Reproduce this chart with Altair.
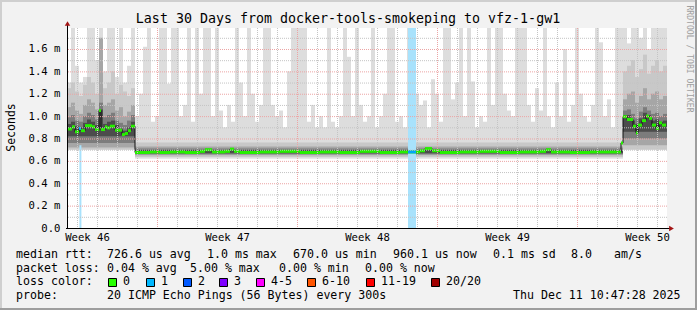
import altair as alt
import pandas as pd

FONT = "DejaVu Sans Mono"

# ------------------------------------------------------------------ text
TITLE = "Last 30 Days from docker-tools-smokeping to vfz-1-gw1"
WATERMARK = "RRDTOOL / TOBI OETIKER"
Y_TITLE = "Seconds"

# ------------------------------------------------------------------ scales (days / milliseconds)
X_DAYS = 30.0
Y_MAX_MS = 1.7877
COL_DAYS = 0.2

WEEK_DAYS = [1, 8, 15, 22, 29]
WEEK_LABELS = ["Week 46", "Week 47", "Week 48", "Week 49", "Week 50"]
Y_TICKS = [0.0, 0.2, 0.4, 0.6, 0.8, 1.0, 1.2, 1.4, 1.6]
Y_MINOR = [0.1, 0.3, 0.5, 0.7, 0.9, 1.1, 1.3, 1.5, 1.7]
X_MAJOR = [4.5, 11.5, 18.5, 25.5]
X_MINOR = [0.5, 1.5, 2.5, 3.5, 5.5, 6.5, 7.5, 8.5, 9.5, 10.5, 12.5, 13.5, 14.5, 15.5,
           16.5, 17.5, 19.5, 20.5, 21.5, 22.5, 23.5, 24.5, 26.5, 27.5, 28.5, 29.5]

# ------------------------------------------------------------------ smoke: top of the outer (lightest) band per column
SPIKE_TOP = [
    # region A
    1.30, 1.79, 1.45, 1.30, 1.35, 1.79, 1.79, 1.50, 1.79, 1.40, 1.79, 1.79, 1.35, 1.79, 1.30, 1.45, 1.79,
    # region B
    1.00, 1.20, 1.62, 1.79, 0.95, 1.00, 1.79, 1.79, 1.29, 1.79, 1.79, 1.00, 1.10, 1.79, 0.95, 1.79, 1.20,
    1.79, 1.79, 1.00, 1.79, 1.05, 0.90, 1.10, 0.95, 1.79, 1.30, 1.00, 1.79, 1.20, 0.95, 1.10, 1.79, 1.79,
    1.10, 1.00, 1.05, 0.90, 1.40, 1.79, 1.79, 1.79, 1.79, 0.95, 1.10, 0.90, 1.00, 0.90, 1.79, 0.95, 0.90,
    1.00, 1.79, 1.53, 1.00, 1.79, 1.10, 0.95, 1.00, 1.79, 0.90, 1.00, 1.20, 1.79, 1.79, 0.95, 1.00, 0.90,
    1.79, 1.79, 1.20, 1.10, 1.14, 0.90, 1.33, 1.20, 0.95, 1.79, 1.79, 1.15, 1.30, 1.79, 1.00, 1.79,
    1.31, 0.90, 1.00, 0.95, 1.79, 1.10, 1.79, 1.79, 1.20, 1.05, 1.00, 1.79, 1.79, 1.79, 1.10, 0.95, 1.25,
    1.05, 1.79, 1.00, 0.90, 1.30, 1.00, 1.60, 0.95, 1.10, 1.79, 1.20, 1.00, 0.95, 1.10, 1.79, 1.66, 1.00,
    1.15, 0.90, 1.79, 1.79,
    # region C
    1.79, 1.65, 1.79, 1.79, 1.70, 1.79, 1.60, 1.79, 1.79, 1.79, 1.79,
]
A_COLS = 17
C_COLS = 11
FLOOR_A, FLOOR_B, FLOOR_C = 0.70, 0.62, 0.70

A_BAND_LO = [0.70, 0.72, 0.76, 0.82]
A_BAND1_HI = [1.25, 1.30, 1.22, 1.18, 1.28, 1.35, 1.30, 1.20, 1.45, 1.25, 1.30, 1.40, 1.20, 1.28, 1.22, 1.18, 1.25]
A_BAND2_HI = [1.08, 1.12, 1.05, 1.02, 1.10, 1.15, 1.12, 1.06, 1.70, 1.10, 1.12, 1.15, 1.05, 1.08, 1.00, 1.04, 1.10]
A_BAND3_HI = [0.99, 1.01, 0.96, 0.95, 1.00, 1.03, 1.01, 0.97, 1.12, 0.99, 1.01, 1.03, 0.96, 0.94, 0.92, 0.96, 1.01]
A_BAND4_HI = [0.93, 0.95, 0.91, 0.90, 0.94, 0.97, 0.95, 0.92, 1.06, 0.93, 0.95, 0.96, 0.92, 0.89, 0.87, 0.90, 0.95]

B_BAND_LO = [0.635, 0.650, 0.660, 0.668]
B_BAND_HI = [0.765, 0.728, 0.710, 0.698]

C_BAND_LO = [0.70, 0.74, 0.80, 0.86]
C_BAND1_HI = [1.40, 1.45, 1.50, 1.35, 1.42, 1.55, 1.38, 1.45, 1.50, 1.40, 1.45]
C_BAND2_HI = [1.15, 1.20, 1.22, 1.12, 1.18, 1.25, 1.15, 1.20, 1.22, 1.15, 1.18]
C_BAND3_HI = [1.05, 1.06, 1.02, 0.98, 1.04, 1.08, 1.05, 1.02, 1.03, 1.00, 1.02]
C_BAND4_HI = [1.01, 1.01, 0.96, 0.93, 0.98, 1.03, 1.01, 0.96, 0.97, 0.95, 0.96]

SHADES = ["#dddddd", "#c8c8c8", "#a6a6a6", "#7c7c7c", "#4c4c4c"]

# ------------------------------------------------------------------ median rtt (ms), step starts in days
MEDIAN_DAY = [0.00, 0.25, 0.40, 0.60, 0.70, 0.90, 1.25, 1.40, 1.60, 1.70, 1.90, 2.00, 2.15, 2.40, 2.75,
              2.90, 3.05, 3.20,
              3.40, 4.15, 4.65, 5.15, 5.90, 6.65, 6.90, 7.25, 7.90, 8.15, 8.35, 8.65, 9.65, 10.65,
              11.65, 12.65, 13.65, 14.65, 15.65, 16.65, 17.65, 17.90, 18.25, 18.65, 19.65, 20.65,
              21.65, 22.65, 23.65, 23.95, 24.20, 25.15, 26.15,
              27.70, 27.80, 28.00, 28.30, 28.45, 28.55, 28.75, 28.95, 29.10, 29.25, 29.45, 29.60, 29.75]
MEDIAN_MS = [0.885, 0.905, 0.860, 0.890, 0.870, 0.915, 0.905, 0.880, 1.050, 0.880, 0.905, 0.895, 0.910,
             0.875, 0.835, 0.845, 0.870, 0.910,
             0.675, 0.680, 0.675, 0.680, 0.675, 0.685, 0.700, 0.680, 0.685, 0.705, 0.685, 0.675, 0.680,
             0.685, 0.675, 0.680, 0.675, 0.685, 0.675, 0.680, 0.690, 0.710, 0.690, 0.675, 0.680, 0.685,
             0.675, 0.680, 0.685, 0.700, 0.680, 0.675, 0.680,
             0.760, 0.995, 0.970, 0.910, 0.850, 0.920, 0.960, 1.000, 0.980, 0.920, 0.890, 0.940, 0.920]
MEDIAN_END_DAY = 29.95

# median segments with 1/20 loss, and the loss bars behind them
LOSS1_DAY0 = [0.60, 17.05]
LOSS1_DAY1 = [0.70, 17.45]
LOSS1_MS = [0.890, 0.680]
LOSSBAR_DAY0 = [0.62, 17.05]
LOSSBAR_DAY1 = [0.72, 17.45]
LOSSBAR_TOP = [0.74, Y_MAX_MS]

# ------------------------------------------------------------------ legend
LEGEND_ROWS = [
    ["median rtt:", "726.6 us avg", "1.0 ms max", "670.0 us min", "960.1 us now", "0.1 ms sd", "8.0", "am/s"],
    ["packet loss:", "0.04 % avg", "5.00 % max", "0.00 % min", "0.00 % now"],
    ["loss color:"],
    ["probe:", "20 ICMP Echo Pings (56 Bytes) every 300s", "Thu Dec 11 10:47:28 2025"],
]
LOSS_LABELS = ["0", "1", "2", "3", "4-5", "6-10", "11-19", "20/20"]
LOSS_COLORS = ["#26ff00", "#00b8ff", "#0059ff", "#7e00ff", "#ff00ff", "#ff5500", "#ff0000", "#a10000"]

# ------------------------------------------------------------------ layout (pixels)
W, H = 697, 310
PL, PT, PW, PH = 67, 28, 600, 200
LEGEND_X = [
    [16, 107, 207, 293, 393, 493, 571, 614],
    [16, 107, 190, 279, 365],
    [16],
    [16, 107, 513],
]
LEGEND_Y = [255, 268.5, 282, 296]
LOSS_BOX_X = [108, 146, 183, 219, 256, 307, 366, 431]

# ------------------------------------------------------------------ tables
rows = []
n = len(SPIKE_TOP)
for i, top in enumerate(SPIKE_TOP):
    d0 = round(i * COL_DAYS, 4)
    d1 = round(d0 + COL_DAYS, 4)
    if i < A_COLS:
        floor = FLOOR_A
    elif i >= n - C_COLS:
        floor = FLOOR_C
    else:
        floor = FLOOR_B
    rows.append(dict(d0=d0, d1=d1, lo=floor, hi=top, shade="s0"))
for i in range(A_COLS):
    d0 = round(i * COL_DAYS, 4)
    d1 = round(d0 + COL_DAYS, 4)
    for b, his in enumerate([A_BAND1_HI, A_BAND2_HI, A_BAND3_HI, A_BAND4_HI]):
        rows.append(dict(d0=d0, d1=d1, lo=A_BAND_LO[b], hi=his[i], shade="s%d" % (b + 1)))
for j in range(C_COLS):
    i = n - C_COLS + j
    d0 = round(i * COL_DAYS, 4)
    d1 = round(d0 + COL_DAYS, 4)
    for b, his in enumerate([C_BAND1_HI, C_BAND2_HI, C_BAND3_HI, C_BAND4_HI]):
        rows.append(dict(d0=d0, d1=d1, lo=C_BAND_LO[b], hi=his[j], shade="s%d" % (b + 1)))
b_start = round(A_COLS * COL_DAYS, 4)
b_end = round((n - C_COLS) * COL_DAYS, 4)
for b in range(4):
    rows.append(dict(d0=b_start, d1=b_end, lo=B_BAND_LO[b], hi=B_BAND_HI[b], shade="s%d" % (b + 1)))
rows.sort(key=lambda r: r["shade"])
smoke_df = pd.DataFrame(rows)

med_pts = pd.DataFrame({"d0": MEDIAN_DAY + [MEDIAN_END_DAY], "lo": MEDIAN_MS + [MEDIAN_MS[-1]]})
med_seg = pd.DataFrame({"d0": MEDIAN_DAY, "d1": MEDIAN_DAY[1:] + [MEDIAN_END_DAY], "lo": MEDIAN_MS})
loss_seg = pd.DataFrame({"d0": LOSS1_DAY0, "d1": LOSS1_DAY1, "lo": LOSS1_MS})
loss_bar = pd.DataFrame({"d0": LOSSBAR_DAY0, "d1": LOSSBAR_DAY1, "lo": [0.0, 0.0], "hi": LOSSBAR_TOP})
ONE = pd.DataFrame({"k": [0]})

xs = alt.Scale(domain=[0, X_DAYS], nice=False, zero=False)
ys = alt.Scale(domain=[0, Y_MAX_MS], nice=False, zero=True)

week_expr = " : ".join("datum.value == %s ? '%s'" % (d, l) for d, l in zip(WEEK_DAYS, WEEK_LABELS)) + " : ''"
NB = "\u00a0"
y_expr = "datum.value == 0 ? '0.0%s%s' : format(datum.value, '.1f') + ' m'" % (NB, NB)

x_axis = alt.Axis(values=WEEK_DAYS, labelExpr=week_expr, domain=False, ticks=False, grid=False,
                  labelFont=FONT, labelFontSize=10.6, labelColor="#000000", labelPadding=9,
                  labelBaseline="middle", labelFlush=False, labelOverlap=False, title="")
y_axis = alt.Axis(values=Y_TICKS, labelExpr=y_expr, domain=False, ticks=False, grid=False,
                  labelFont=FONT, labelFontSize=10.6, labelColor="#000000", labelPadding=7,
                  labelAlign="right", labelBaseline="middle", labelOverlap=False, labelFlush=False,
                  title=Y_TITLE, titleFont=FONT, titleFontSize=11.5, titleFontWeight="normal",
                  titleColor="#000000", titleX=11 - PL, titleY=127 - PT, titleAngle=270,
                  titleAlign="center", titleBaseline="middle")


def X(field="d0"):
    return alt.X(field + ":Q", scale=xs, axis=x_axis)


def Y(field="lo"):
    return alt.Y(field + ":Q", scale=ys, axis=y_axis)


layers = []

# smoke
layers.append(alt.Chart(smoke_df).mark_rect(clip=True).encode(
    x=X(), x2="d1:Q", y=Y(), y2="hi:Q",
    color=alt.Color("shade:N", scale=alt.Scale(domain=["s0", "s1", "s2", "s3", "s4"], range=SHADES),
                    legend=None)))

# loss bars
layers.append(alt.Chart(loss_bar).mark_rect(color="#a8e2fc", clip=True).encode(
    x=X(), x2="d1:Q", y=Y(), y2="hi:Q"))

# median: dark step connectors, then coloured horizontal pieces
layers.append(alt.Chart(med_pts).mark_line(interpolate="step-after", color="#111111", strokeWidth=1).encode(
    x=X(), y=Y()))
layers.append(alt.Chart(med_seg).mark_rule(color="#26ee00", strokeWidth=3).encode(
    x=X(), x2="d1:Q", y=Y()))
layers.append(alt.Chart(loss_seg).mark_rule(color="#00a6f5", strokeWidth=3).encode(
    x=X(), x2="d1:Q", y=Y()))

# grid (drawn over the data, as rrdtool does)
layers.append(alt.Chart(pd.DataFrame({"d0": X_MINOR})).mark_rule(
    color="#c4c4c4", strokeDash=[1, 1], strokeWidth=1, xOffset=0.5).encode(x=X()))
layers.append(alt.Chart(pd.DataFrame({"lo": Y_MINOR})).mark_rule(
    color="#c4c4c4", strokeDash=[1, 1], strokeWidth=1, yOffset=0.5).encode(y=Y()))
layers.append(alt.Chart(pd.DataFrame({"d0": X_MAJOR})).mark_rule(
    color="#eca4a4", strokeDash=[1, 1], strokeWidth=1, xOffset=0.5).encode(x=X()))
layers.append(alt.Chart(pd.DataFrame({"lo": Y_TICKS[1:]})).mark_rule(
    color="#eca4a4", strokeDash=[1, 1], strokeWidth=1, yOffset=0.5).encode(y=Y()))


def px(Xp):
    return Xp - PL


def py(Yp):
    return Yp - PT


def rect(X0, Y0, X1, Y1, color, stroke=None):
    kw = dict(color=color)
    if stroke:
        kw.update(stroke=stroke, strokeWidth=1)
    return alt.Chart(ONE).mark_rect(**kw).encode(
        x=alt.value(px(X0)), x2=alt.value(px(X1)), y=alt.value(py(Y0)), y2=alt.value(py(Y1)))


def text(s, Xp, Yp, size=11.6, align="left", color="#000000", angle=None):
    kw = dict(text=s, font=FONT, fontSize=size, align=align, baseline="middle", color=color)
    if angle is not None:
        kw["angle"] = angle
    return alt.Chart(ONE).mark_text(**kw).encode(x=alt.value(px(Xp)), y=alt.value(py(Yp)))


# axes with arrows
layers.append(alt.Chart(ONE).mark_rule(color="#000000", strokeWidth=1).encode(
    x=alt.value(0.5), y=alt.value(PH), y2=alt.value(-3)))
layers.append(alt.Chart(ONE).mark_rule(color="#000000", strokeWidth=1).encode(
    x=alt.value(-1), x2=alt.value(PW + 3), y=alt.value(PH + 0.5)))
layers.append(alt.Chart(ONE).mark_point(shape="triangle-up", filled=True, size=30, color="#a31515", opacity=1).encode(
    x=alt.value(0.5), y=alt.value(-4.5)))
layers.append(alt.Chart(ONE).mark_point(shape="triangle-right", filled=True, size=30, color="#a31515", opacity=1).encode(
    x=alt.value(PW + 4.5), y=alt.value(PH + 0.5)))

# frame
layers.append(rect(0, 0, W, 2, "#cfcfcf"))
layers.append(rect(0, 0, 2, H, "#cfcfcf"))
layers.append(rect(W - 2, 0, W, H, "#9e9e9e"))
layers.append(rect(0, H - 2, W, H, "#9e9e9e"))

# titles
layers.append(text(TITLE, 348, 19, size=13.3, align="center"))
layers.append(text(WATERMARK, 689, 59, size=8.1, align="center", color="#a0a0a0", angle=90))

# legend
for row, xrow, Yp in zip(LEGEND_ROWS, LEGEND_X, LEGEND_Y):
    for s, Xp in zip(row, xrow):
        layers.append(text(s, Xp, Yp))
for lab, col, Xp in zip(LOSS_LABELS, LOSS_COLORS, LOSS_BOX_X):
    layers.append(rect(Xp + 0.5, 278.5, Xp + 8.5, 286.5, col, stroke="#000000"))
    layers.append(text(lab, Xp + 15, 282))

chart = alt.layer(*layers).properties(
    width=PW, height=PH,
    padding={"left": PL, "top": PT, "right": W - PL - PW, "bottom": H - PT - PH},
    autosize=alt.AutoSizeParams(type="none"),
    background="#f2f2f2",
).configure_view(fill="#ffffff", stroke=None)

chart.save("out.html", embed_options={"renderer": "svg", "actions": False})
